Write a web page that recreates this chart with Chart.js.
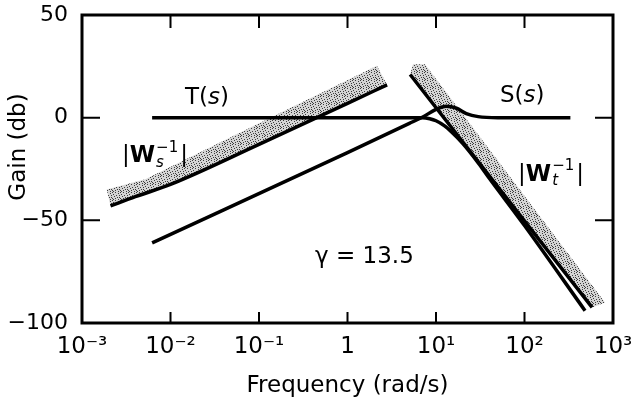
<!DOCTYPE html>
<html>
<head>
<meta charset="utf-8">
<script src="https://cdn.jsdelivr.net/npm/chart.js@4.4.1/dist/chart.umd.min.js"></script>
<style>
  html, body { margin: 0; padding: 0; background: #fff; }
</style>
</head>
<body>
<canvas id="chart" width="636" height="399"></canvas>
<script>
// axes
var xTicks = [1e-3, 1e-2, 1e-1, 1, 1e1, 1e2, 1e3];
var xTickLabels = ["10⁻³", "10⁻²", "10⁻¹", "1", "10¹", "10²", "10³"];
var yTicks = [-100, -50, 0, 50];
var yTickLabels = ["−100", "−50", "0", "50"];

// T(s)
var tFreq = [0.0062, 7, 8.5, 10, 12.5, 15, 20, 30, 40, 100, 483];
var tGain = [0, 0, -0.5, -1.5, -4, -7, -12.5, -22, -29.5, -52.5, -94];

// S(s)
var sFreq = [0.0062, 1, 5, 7, 10, 13, 17, 22, 30, 50, 330];
var sGain = [-61, -17, -2.8, 0.2, 4, 5.5, 4.6, 2, 0.5, 0, 0];

// |Ws^-1| : solid bound and upper edge of the shaded band
var wsFreq = [0.0021, 0.004, 0.01, 0.1, 1, 2.8];
var wsGain = [-43, -38.5, -32.5, -13, 7, 16];
var wsEdgeFreq = [0.0019, 0.0052, 0.019, 0.164, 2.15];
var wsEdgeGain = [-35, -30, -18, 1.8, 25.3];

// |Wt^-1| : solid bound and upper edge of the shaded band
var wtFreq = [5.1, 580];
var wtGain = [21, -92.4];
var wtEdgeFreq = [5.5, 7.5, 813];
var wtEdgeGain = [26, 26, -90];

var notes = [
    { x: 0.0146, y: 9.5, runs: [["T(", "n"], ["s", "i"], [")", "n"]] },
    { x: 52.8, y: 10.5, runs: [["S(", "n"], ["s", "i"], [")", "n"]] },
    { x: 0.00283, y: -18.8, runs: [["|", "n"], ["W", "b"], ["s", "sub", "−1"], ["|", "n"]] },
    { x: 84.5, y: -27.7, runs: [["|", "n"], ["W", "b"], ["t", "sub", "−1"], ["|", "n"]] },
    { x: 0.43, y: -68, runs: [["γ = 13.5", "n"]] }
];

var FONT = '"DejaVu Sans", sans-serif';

var pts = (xs, ys) => xs.map((v, i) => ({ x: v, y: ys[i] }));
var band = (ex, ey, lx, ly) => pts(ex, ey).concat(pts(lx, ly).reverse());

var ctx = document.getElementById("chart").getContext("2d");

// grainy halftone for the weight bands
var stipple = (() => {
    var c = document.createElement("canvas");
    c.width = 8; c.height = 8;
    var g = c.getContext("2d");
    g.fillStyle = "#d4d4d4";
    g.fillRect(0, 0, 8, 8);
    g.fillStyle = "#3c3c3c";
    [[0, 0], [3, 0], [6, 1], [1, 2], [4, 3], [7, 3], [2, 4], [5, 5], [0, 6], [3, 6], [6, 7], [1, 7], [7, 5]]
        .forEach(p => g.fillRect(p[0], p[1], 1, 1));
    return ctx.createPattern(c, "repeat");
})();

var curve = (data) => ({
    data: data,
    borderColor: "#000",
    borderWidth: 3.5,
    pointRadius: 0,
    fill: false,
    cubicInterpolationMode: "monotone",
    order: 1
});

var shade = (data) => ({
    data: data,
    borderWidth: 0,
    borderColor: "rgba(0,0,0,0)",
    backgroundColor: stipple,
    pointRadius: 0,
    fill: "shape",
    tension: 0,
    order: 2
});

var drawRuns = (c, x, y, runs) => {
    runs.forEach(r => {
        if (r[1] === "sub") {
            c.font = "italic 15px " + FONT;
            var w1 = c.measureText(r[0]).width;
            c.fillText(r[0], x + 1, y + 7);
            c.font = "15px " + FONT;
            var w2 = c.measureText(r[2]).width;
            c.fillText(r[2], x + 1, y - 8);
            x += Math.max(w1, w2) + 3;
        } else {
            c.font = (r[1] === "i" ? "italic " : r[1] === "b" ? "bold " : "") + "23px " + FONT;
            c.fillText(r[0], x, y);
            x += c.measureText(r[0]).width;
        }
    });
};

var framePlugin = {
    id: "frame",
    afterDatasetsDraw: chart => {
        var c = chart.ctx, a = chart.chartArea, xs = chart.scales.x, ys = chart.scales.y;
        c.save();
        c.strokeStyle = "#000";
        c.lineWidth = 3;
        c.strokeRect(a.left, a.top, a.right - a.left, a.bottom - a.top);
        c.lineWidth = 2;
        c.beginPath();
        xTicks.slice(1, -1).forEach(v => {
            var px = xs.getPixelForValue(v);
            c.moveTo(px, a.bottom); c.lineTo(px, a.bottom - 11);
            c.moveTo(px, a.top); c.lineTo(px, a.top + 13);
        });
        yTicks.slice(1, -1).forEach(v => {
            var py = ys.getPixelForValue(v);
            c.moveTo(a.left, py); c.lineTo(a.left + 18, py);
            c.moveTo(a.right, py); c.lineTo(a.right - 18, py);
        });
        c.stroke();

        c.fillStyle = "#000";
        c.textBaseline = "middle";
        c.textAlign = "left";
        notes.forEach(n => drawRuns(c, xs.getPixelForValue(n.x), ys.getPixelForValue(n.y), n.runs));

        // axis titles
        c.textAlign = "center";
        c.font = "23px " + FONT;
        c.fillText("Frequency (rad/s)", (a.left + a.right) / 2, 386);
        c.translate(19, 147);
        c.rotate(-Math.PI / 2);
        c.fillText("Gain (db)", 0, 0);
        c.restore();
    }
};

new Chart(ctx, {
    type: "line",
    data: {
        datasets: [
            curve(pts(tFreq, tGain)),
            curve(pts(sFreq, sGain)),
            curve(pts(wsFreq, wsGain)),
            curve(pts(wtFreq, wtGain)),
            shade(band(wsEdgeFreq, wsEdgeGain, wsFreq, wsGain)),
            shade(band(wtEdgeFreq, wtEdgeGain, wtFreq, wtGain))
        ]
    },
    options: {
        responsive: false,
        animation: false,
        devicePixelRatio: 1,
        events: [],
        layout: { padding: { top: 15, right: 23, left: 0, bottom: 0 } },
        plugins: { legend: { display: false }, tooltip: { enabled: false } },
        scales: {
            x: {
                type: "logarithmic",
                min: 1e-3,
                max: 1e3,
                afterBuildTicks: s => { s.ticks = xTicks.map(v => ({ value: v })); },
                afterFit: s => { s.height = 76; s.paddingLeft = 0; s.paddingRight = 0; },
                grid: { display: false, drawTicks: false },
                border: { display: false },
                ticks: {
                    autoSkip: false,
                    maxRotation: 0,
                    padding: 10,
                    color: "#000",
                    font: { family: FONT, size: 23 },
                    callback: (v, i) => xTickLabels[i]
                }
            },
            y: {
                min: -100,
                max: 50,
                afterBuildTicks: s => { s.ticks = yTicks.map(v => ({ value: v })); },
                afterFit: s => { s.width = 82; s.paddingTop = 0; s.paddingBottom = 0; },
                grid: { display: false, drawTicks: false },
                border: { display: false },
                ticks: {
                    padding: 14,
                    color: "#000",
                    font: { family: FONT, size: 22 },
                    callback: (v, i) => yTickLabels[i]
                }
            }
        }
    },
    plugins: [framePlugin]
});
</script>
</body>
</html>
